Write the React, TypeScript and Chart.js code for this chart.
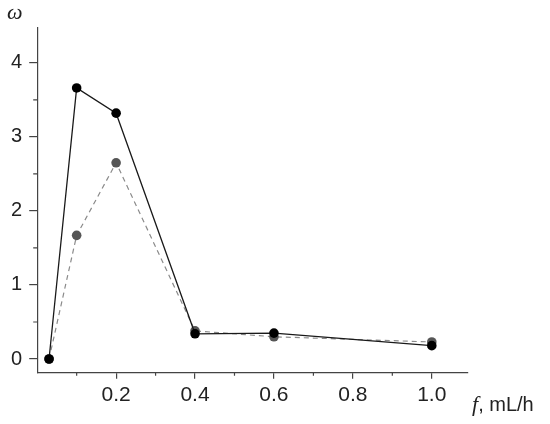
import React, { useEffect, useRef } from "react";
import { Chart, registerables } from "chart.js";

Chart.register(...registerables);

const flowRates = [0.03, 0.1, 0.2, 0.4, 0.6, 1.0];
const omegaSolid = [0.0, 3.66, 3.32, 0.34, 0.35, 0.18];
const omegaDashed = [0.0, 1.67, 2.65, 0.38, 0.3, 0.23];
const xMajorTicks = [0.2, 0.4, 0.6, 0.8, 1.0];
const xMinorTicks = [0.1, 0.3, 0.5, 0.7, 0.9];
const yMajorTicks = [0, 1, 2, 3, 4];
const yMinorTicks = [0.5, 1.5, 2.5, 3.5];

const AXIS_COLOR = "#444";

const minorTicksPlugin = {
  id: "minorTicks",
  afterDraw(chart: any) {
    const ctx = chart.ctx;
    const xs = chart.scales.x;
    const ys = chart.scales.y;
    const area = chart.chartArea;
    ctx.save();
    ctx.strokeStyle = AXIS_COLOR;
    ctx.lineWidth = 1.2;
    ctx.beginPath();
    xMinorTicks.forEach((v) => {
      const px = xs.getPixelForValue(v);
      ctx.moveTo(px, area.bottom);
      ctx.lineTo(px, area.bottom + 3);
    });
    yMinorTicks.forEach((v) => {
      const py = ys.getPixelForValue(v);
      ctx.moveTo(area.left, py);
      ctx.lineTo(area.left - 4, py);
    });
    ctx.stroke();
    ctx.restore();
  },
};

export default function App() {
  const canvasRef = useRef<HTMLCanvasElement | null>(null);

  useEffect(() => {
    const prevMargin = document.body.style.margin;
    document.body.style.margin = "0";
    if (!canvasRef.current) return;
    const chart = new Chart(canvasRef.current, {
      type: "scatter",
      data: {
        datasets: [
          {
            label: "solid",
            data: flowRates.map((x, i) => ({ x, y: omegaSolid[i] })),
            showLine: true,
            borderColor: "#1a1a1a",
            borderWidth: 1.3,
            backgroundColor: "#000",
            pointBackgroundColor: "#000",
            pointBorderColor: "#000",
            pointRadius: 4.8,
            pointBorderWidth: 0,
          },
          {
            label: "dashed",
            data: flowRates.map((x, i) => ({ x, y: omegaDashed[i] })),
            showLine: true,
            borderColor: "#8a8a8a",
            borderWidth: 1.2,
            borderDash: [5, 4],
            backgroundColor: "#555",
            pointBackgroundColor: "#555",
            pointBorderColor: "#555",
            pointRadius: 4.8,
            pointBorderWidth: 0,
          },
        ],
      },
      options: {
        animation: false,
        responsive: false,
        maintainAspectRatio: false,
        layout: { padding: { top: 28, right: 82.7, left: 0, bottom: 0 } },
        plugins: {
          legend: { display: false },
          tooltip: { enabled: false },
        },
        scales: {
          x: {
            type: "linear",
            min: 0,
            max: 1.09,
            afterBuildTicks: (scale: any) => {
              scale.ticks = xMajorTicks.map((v) => ({ value: v }));
            },
            afterFit: (scale: any) => {
              scale.height = 51.3;
            },
            grid: {
              drawOnChartArea: false,
              drawTicks: true,
              tickLength: 6,
              color: AXIS_COLOR,
              lineWidth: 1.2,
            },
            border: { display: true, color: AXIS_COLOR, width: 1.2 },
            ticks: {
              autoSkip: false,
              maxRotation: 0,
              color: "#222",
              padding: 4,
              font: { family: "Liberation Sans, Arial, sans-serif", size: 21 },
              callback: (v: any) => Number(v).toFixed(1),
            },
          },
          y: {
            type: "linear",
            min: -0.185,
            max: 4.47,
            afterBuildTicks: (scale: any) => {
              scale.ticks = yMajorTicks.map((v) => ({ value: v }));
            },
            afterFit: (scale: any) => {
              scale.width = 37.2;
            },
            grid: {
              drawOnChartArea: false,
              drawTicks: true,
              tickLength: 8,
              color: AXIS_COLOR,
              lineWidth: 1.2,
            },
            border: { display: true, color: AXIS_COLOR, width: 1.2 },
            ticks: {
              autoSkip: false,
              color: "#222",
              padding: 7,
              font: { family: "Liberation Sans, Arial, sans-serif", size: 20 },
              callback: (v: any) => String(v),
            },
          },
        },
      },
      plugins: [minorTicksPlugin],
    });
    return () => {
      chart.destroy();
      document.body.style.margin = prevMargin;
    };
  }, []);

  return (
    <div style={{ position: "fixed", left: 0, top: 0, width: 550, height: 424, background: "#fff" }}>
      <canvas ref={canvasRef} width={550} height={424} style={{ display: "block" }} />
      <span
        style={{
          position: "absolute",
          left: 7,
          top: -1,
          fontFamily: "Liberation Serif, Times New Roman, serif",
          fontStyle: "italic",
          fontSize: 22,
          lineHeight: "normal",
          color: "#222",
        }}
      >
        ω
      </span>
      <span
        style={{
          position: "absolute",
          left: 472,
          top: 391,
          fontFamily: "Liberation Sans, Arial, sans-serif",
          fontSize: 20,
          lineHeight: "normal",
          color: "#222",
          whiteSpace: "nowrap",
        }}
      >
        <span style={{ fontFamily: "Liberation Serif, Times New Roman, serif", fontStyle: "italic", fontSize: 22 }}>f</span>, mL/h
      </span>
    </div>
  );
}
